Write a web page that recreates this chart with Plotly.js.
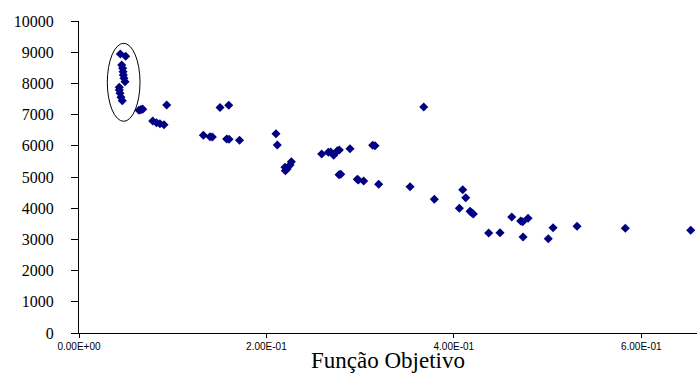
<!DOCTYPE html>
<html><head><meta charset="utf-8">
<script src="https://cdn.plot.ly/plotly-3.0.1.min.js"></script>
<style>html,body{margin:0;padding:0;background:#fff}#chart{width:699px;height:373px}</style>
</head><body><div id="chart"></div>
<script>
const funcaoObjetivo = [
  0.0441,0.0498,0.0456,0.0466,0.0470,0.0473,0.0480,0.0491,0.0430,0.0430,0.0438,0.0448,0.0462,
  0.0640,0.0660,0.0680,0.0936,0.0787,0.0827,0.0864,0.0907,0.1505,0.1598,0.1327,0.1398,0.1423,
  0.1576,0.1601,0.1713,0.2102,0.2116,0.2198,0.2202,0.2220,0.2252,0.2266,0.2590,0.2661,0.2686,
  0.2718,0.2757,0.2778,0.2892,0.2775,0.2793,0.2970,0.2981,0.3038,0.3134,0.3159,0.3198,0.3533,
  0.3679,0.3792,0.4095,0.4127,0.4059,0.4173,0.4191,0.4208,0.4372,0.4493,0.4618,0.4714,0.4735,
  0.4792,0.4739,0.5008,0.5059,0.5315,0.5830,0.6528
];
const valores = [
  8942,8868,8590,8484,8375,8269,8163,8054,7875,7788,7682,7554,7445,
  7140,7160,7175,7308,6795,6740,6708,6676,7227,7298,6336,6292,6282,
  6218,6208,6176,6388,6025,5311,5202,5260,5384,5490,5737,5791,5801,
  5695,5843,5865,5907,5074,5086,4926,4904,4872,6016,6003,4766,4689,
  7243,4285,4593,4336,3997,3900,3856,3814,3205,3215,3718,3590,3567,
  3676,3077,3022,3375,3420,3356,3292
];
const xTickVals = [0, 0.2, 0.4, 0.6];
const xTickText = ["0.00E+00", "2.00E-01", "4.00E-01", "6.00E-01"];
const yTickVals = [0,1000,2000,3000,4000,5000,6000,7000,8000,9000,10000];
const yTickText = ["0","1000","2000","3000","4000","5000","6000","7000","8000","9000","10000"];
const elipseX = [0.0302, 0.0651];
const elipseY = [6785, 9285];

const trace = {
  x: funcaoObjetivo, y: valores, type: 'scatter', mode: 'markers',
  marker: {symbol: 'diamond', size: 7, color: '#000080'},
  hoverinfo: 'skip'
};
const layout = {
  width: 699, height: 373,
  margin: {l: 79, r: 2, t: 21, b: 40, pad: 0},
  paper_bgcolor: '#fff', plot_bgcolor: '#fff',
  showlegend: false,
  xaxis: {
    range: [0, 0.6595], tickvals: xTickVals, ticktext: xTickText,
    showgrid: false, zeroline: false, showline: true, linecolor: '#000', linewidth: 1,
    ticks: 'outside', ticklen: 4, tickcolor: '#000', tickwidth: 1,
    tickfont: {family: 'Liberation Sans', size: 10, color: '#000'},
    title: {text: 'Função Objetivo', font: {family: 'Liberation Serif', size: 23, color: '#000'}, standoff: 3},
    automargin: false
  },
  yaxis: {
    range: [0, 10000], tickvals: yTickVals, ticktext: yTickText,
    showgrid: false, zeroline: false, showline: true, linecolor: '#000', linewidth: 1,
    ticks: 'outside', ticklen: 7, tickcolor: '#000', tickwidth: 1,
    ticklabelstandoff: 14,
    tickfont: {family: 'Liberation Serif', size: 16, color: '#000'},
    automargin: false
  },
  shapes: [{
    type: 'circle', xref: 'x', yref: 'y',
    x0: elipseX[0], x1: elipseX[1], y0: elipseY[0], y1: elipseY[1],
    line: {color: '#000', width: 1}
  }]
};
Plotly.newPlot('chart', [trace], layout, {staticPlot: true, displayModeBar: false});
</script>
</body></html>
